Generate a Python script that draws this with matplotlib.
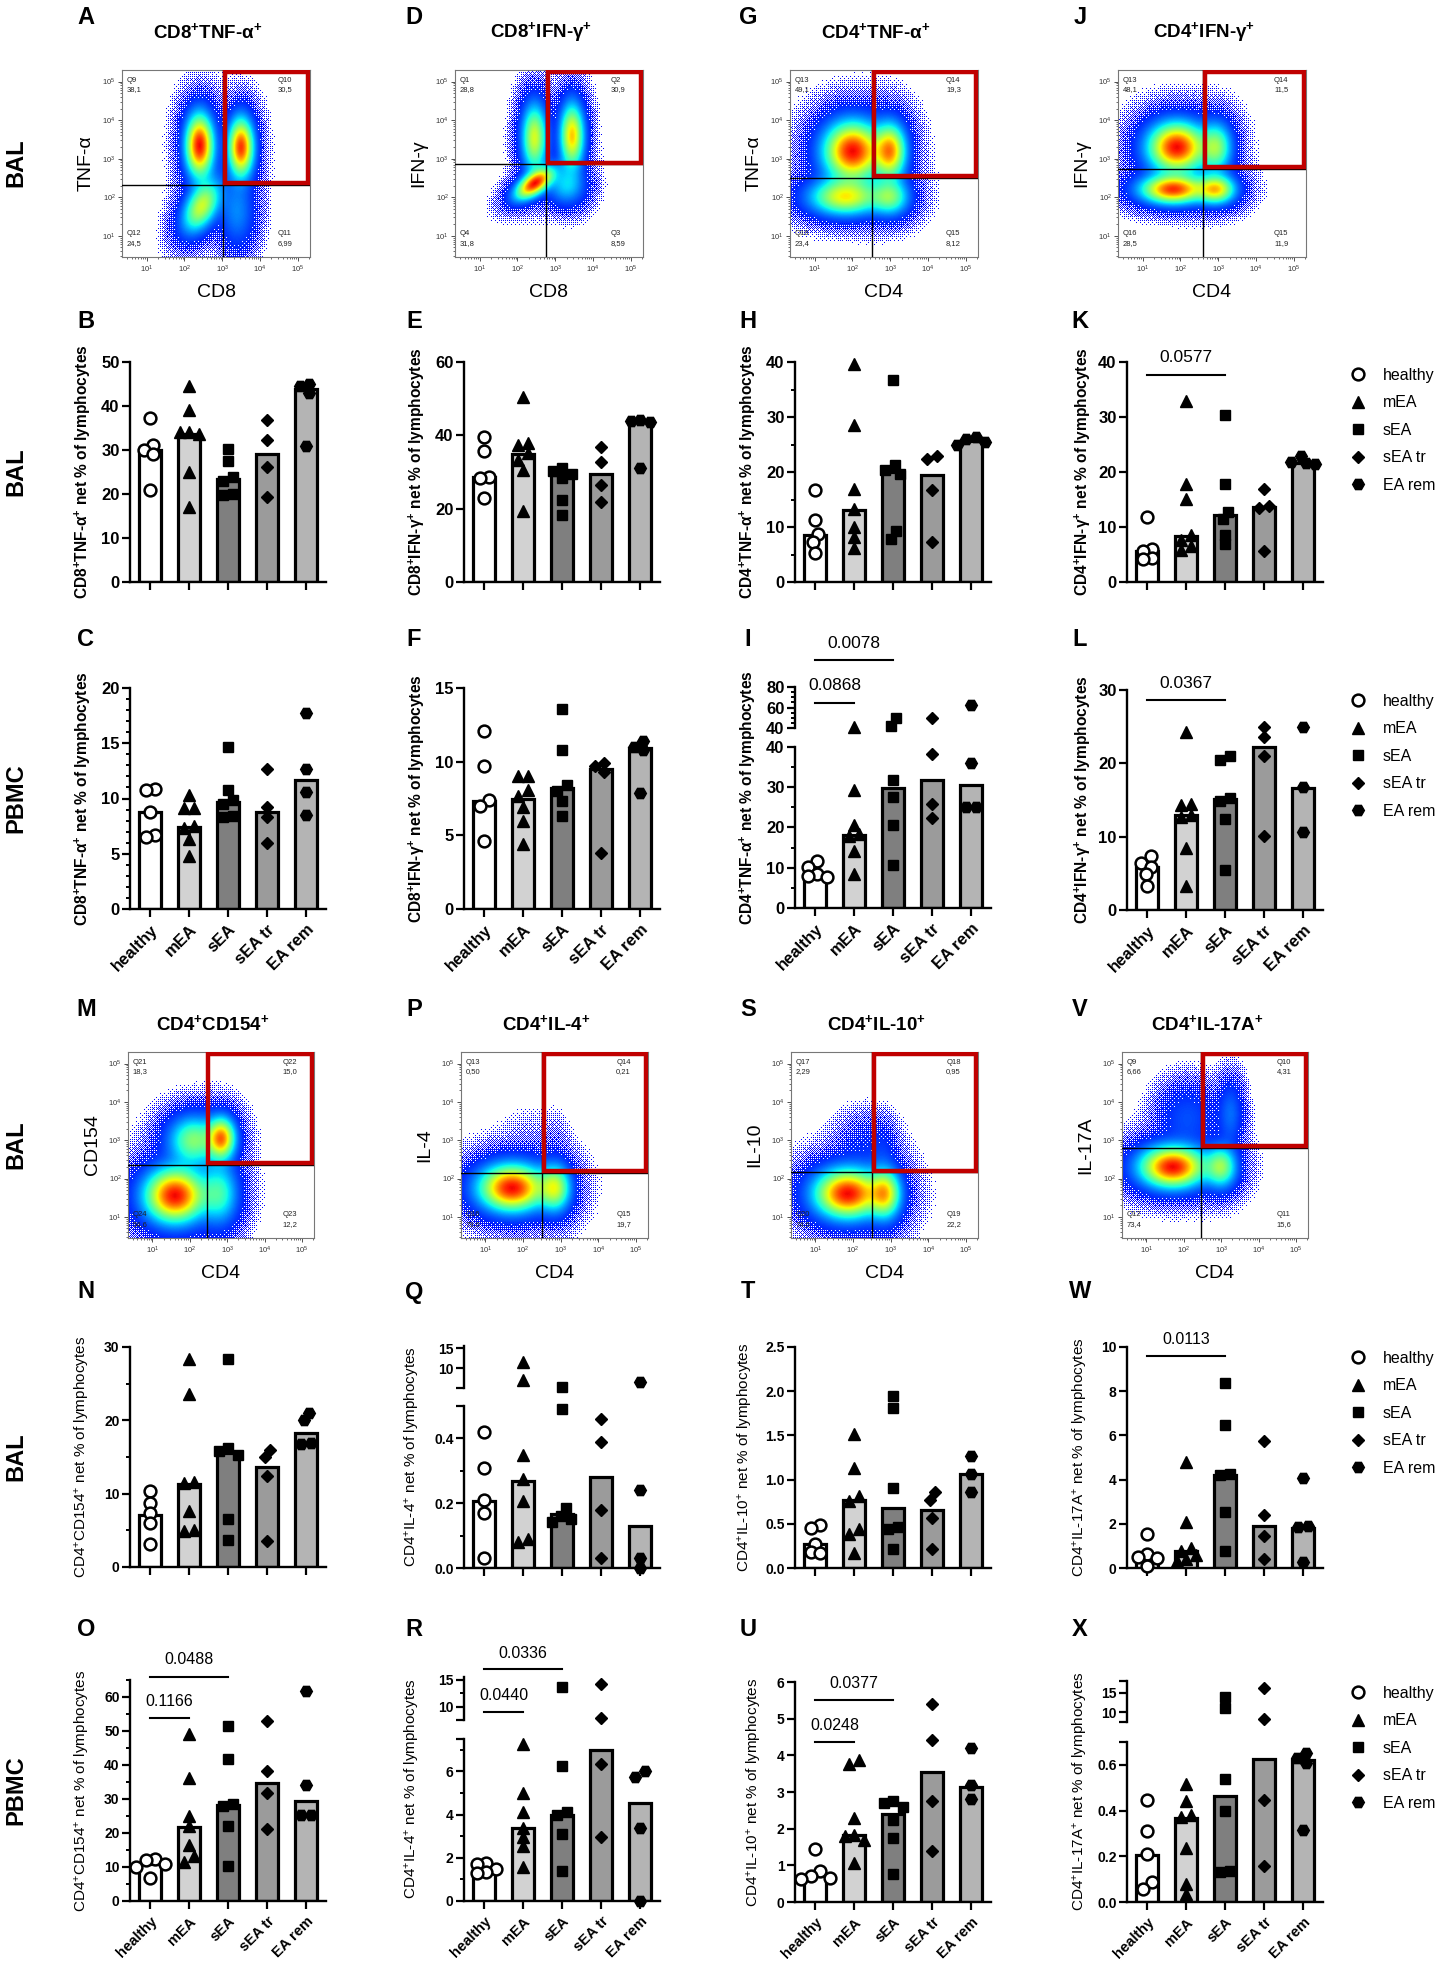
import numpy as np
import matplotlib
matplotlib.use("Agg")
import matplotlib.pyplot as plt
from matplotlib import cm
from matplotlib.lines import Line2D
from matplotlib.patches import Rectangle
import matplotlib.transforms as mtransforms

plt.rcParams['font.family'] = ['Liberation Sans', 'DejaVu Sans']
plt.rcParams['mathtext.fontset'] = 'custom'
plt.rcParams['mathtext.rm'] = 'Liberation Sans'
plt.rcParams['mathtext.it'] = 'Liberation Sans:italic'
plt.rcParams['mathtext.bf'] = 'Liberation Sans:bold'

# ---------------------------------------------------------------- data
groups = ['healthy', 'mEA', 'sEA', 'sEA tr', 'EA rem']

B_bar = [30.0, 33.7, 23.3, 29.2, 43.8]
B_pts = [[37.3, 31.2, 30.0, 29.0, 20.9], [44.6, 39.2, 34.2, 34.0, 33.6, 25.0, 17.0],
         [30.2, 27.4, 23.8, 23.0, 20.0, 19.8], [36.8, 32.2, 26.2, 19.3], [45.0, 44.6, 43.0, 31.0]]
E_bar = [28.7, 35.0, 29.3, 29.5, 43.8]
E_pts = [[39.5, 35.6, 28.7, 28.3, 22.9], [50.4, 38.0, 37.5, 35.2, 33.4, 30.6, 19.5],
         [31.0, 30.4, 29.5, 28.5, 22.3, 18.4], [36.7, 32.6, 26.5, 21.7], [44.3, 44.0, 43.6, 31.1]]
H_bar = [8.5, 13.1, 20.0, 19.4, 25.7]
H_pts = [[16.7, 11.3, 8.7, 7.3, 5.2], [39.6, 28.5, 17.0, 13.3, 10.0, 8.1, 6.2],
         [36.7, 21.2, 20.3, 19.7, 9.3, 7.9], [22.9, 22.3, 16.7, 7.3], [26.3, 26.0, 25.5, 25.0]]
K_bar = [5.7, 8.3, 12.2, 13.6, 21.7]
K_pts = [[11.8, 6.0, 5.7, 4.3, 4.1], [32.9, 17.9, 15.1, 8.5, 7.6, 6.5, 5.9],
         [30.4, 17.9, 12.8, 11.4, 8.6, 7.0], [16.9, 13.9, 13.5, 5.7], [23.0, 21.8, 21.6, 21.4]]
C_bar = [8.75, 7.45, 9.7, 8.75, 11.65]
C_pts = [[10.9, 10.8, 8.8, 6.7, 6.5], [10.3, 9.1, 9.1, 7.5, 7.3, 6.3, 4.8],
         [14.7, 10.8, 9.9, 9.5, 8.4, 8.3], [12.7, 9.2, 8.3, 5.95], [17.7, 12.7, 10.6, 8.5]]
F_bar = [7.35, 7.5, 8.2, 9.5, 10.9]
F_pts = [[12.1, 9.7, 7.4, 7.0, 4.6], [9.0, 9.0, 8.1, 7.7, 6.9, 6.0, 4.4],
         [13.6, 10.8, 8.4, 8.0, 7.3, 6.3], [9.9, 9.7, 9.3, 3.8], [11.4, 11.0, 10.8, 7.9]]
I_bar = [8.5, 18.1, 29.7, 31.8, 30.5]
I_pts = [[11.6, 10.2, 8.5, 8.0, 7.8], [41.0, 29.3, 20.6, 18.3, 18.0, 14.2, 8.5],
         [49.9, 41.6, 31.8, 27.6, 20.6, 10.8], [50.0, 38.3, 25.8, 22.3], [62.4, 36.1, 25.1, 25.1]]
L_bar = [5.9, 13.0, 15.1, 22.2, 16.6]
L_pts = [[7.3, 6.4, 5.9, 4.9, 3.3], [24.3, 14.5, 14.3, 13.0, 12.7, 8.5, 3.3],
         [21.0, 20.5, 15.3, 14.9, 12.4, 5.5], [24.9, 23.6, 21.0, 10.1], [24.9, 16.8, 10.6]]
N_bar = [7.1, 11.3, 15.6, 13.7, 18.3]
N_pts = [[10.3, 8.7, 7.3, 6.0, 3.1], [28.3, 23.6, 11.6, 11.4, 7.7, 5.0, 4.9],
         [28.3, 16.2, 15.8, 15.3, 6.5, 3.7], [16.0, 15.0, 12.4, 3.6], [21.0, 20.0, 16.9, 16.8]]
O_bar = [11.0, 21.7, 28.3, 34.6, 29.5]
O_pts = [[12.4, 12.0, 10.9, 10.0, 6.7], [49.2, 36.3, 24.9, 22.0, 16.6, 13.3, 11.4],
         [51.5, 41.9, 28.6, 28.0, 22.0, 10.2], [53.0, 38.1, 31.7, 21.3], [61.9, 34.0, 25.4, 25.4]]
Q_bar = [0.208, 0.268, 0.168, 0.28, 0.13]
Q_pts = [[0.42, 0.31, 0.21, 0.17, 0.03], [11.4, 7.1, 0.35, 0.275, 0.208, 0.09, 0.08],
         [5.3, 0.49, 0.184, 0.161, 0.152, 0.141], [0.46, 0.39, 0.18, 0.03], [6.5, 0.24, 0.03, 0.0]]
R_bar = [1.36, 3.4, 3.96, 7.0, 4.56]
R_pts = [[1.76, 1.7, 1.46, 1.36, 1.3], [7.26, 5.0, 4.1, 3.36, 2.96, 2.56, 1.56],
         [13.65, 6.26, 4.1, 3.96, 3.12, 1.4], [14.2, 7.86, 6.32, 2.96], [6.0, 5.76, 3.4, 0.0]]
T_bar = [0.27, 0.77, 0.68, 0.66, 1.06]
T_pts = [[0.49, 0.45, 0.27, 0.18, 0.17], [1.52, 1.13, 0.82, 0.76, 0.44, 0.39, 0.17],
         [1.95, 1.81, 0.91, 0.46, 0.44, 0.22], [0.86, 0.77, 0.56, 0.22], [1.27, 1.06, 0.86]]
U_bar = [0.70, 1.82, 2.41, 3.55, 3.15]
U_pts = [[1.44, 0.85, 0.70, 0.66, 0.62], [3.88, 3.76, 2.29, 1.83, 1.80, 1.70, 1.06],
         [2.76, 2.70, 2.60, 2.24, 1.74, 0.76], [5.39, 4.41, 2.76, 1.38], [4.20, 3.18, 2.80]]
W_bar = [0.49, 0.78, 4.19, 1.89, 1.81]
W_pts = [[1.56, 0.62, 0.50, 0.45, 0.08], [4.8, 2.08, 0.92, 0.78, 0.58, 0.39, 0.3],
         [8.38, 6.47, 4.25, 4.23, 2.53, 0.78], [5.75, 2.4, 1.46, 0.39], [4.09, 1.89, 1.85, 0.25]]
X_bar = [0.205, 0.368, 0.465, 0.625, 0.62]
X_pts = [[0.447, 0.31, 0.212, 0.086, 0.056], [0.518, 0.443, 0.38, 0.37, 0.236, 0.08, 0.034],
         [13.9, 11.1, 0.537, 0.396, 0.137, 0.131], [16.1, 8.3, 0.447, 0.156], [0.65, 0.63, 0.61, 0.315]]

# p-values of comparisons: (group a, group b, label)
K_sig = [(0, 2, '0.0577')]
I_sig = [(0, 2, '0.0078'), (0, 1, '0.0868')]
L_sig = [(0, 2, '0.0367')]
O_sig = [(0, 2, '0.0488'), (0, 1, '0.1166')]
R_sig = [(0, 2, '0.0336'), (0, 1, '0.0440')]
U_sig = [(0, 2, '0.0377'), (0, 1, '0.0248')]
W_sig = [(0, 2, '0.0113')]

# flow cytometry: quadrant names / percentages (UL, UR, LL, LR)
A_quad = [('Q9', '38,1'), ('Q10', '30,5'), ('Q12', '24,5'), ('Q11', '6,99')]
D_quad = [('Q1', '28,8'), ('Q2', '30,9'), ('Q4', '31,8'), ('Q3', '8,59')]
G_quad = [('Q13', '49,1'), ('Q14', '19,3'), ('Q16', '23,4'), ('Q15', '8,12')]
J_quad = [('Q13', '48,1'), ('Q14', '11,5'), ('Q16', '28,5'), ('Q15', '11,9')]
M_quad = [('Q21', '18,3'), ('Q22', '15,0'), ('Q24', '54,6'), ('Q23', '12,2')]
P_quad = [('Q13', '0,50'), ('Q14', '0,21'), ('Q16', '79,6'), ('Q15', '19,7')]
S_quad = [('Q17', '2,29'), ('Q18', '0,95'), ('Q20', '74,6'), ('Q19', '22,2')]
V_quad = [('Q9', '6,66'), ('Q10', '4,31'), ('Q12', '73,4'), ('Q11', '15,6')]

# populations (log10 centre x, centre y, spread x, spread y, correlation, weight)
A_pops = [(2.40, 3.35, 0.22, 0.48, 0.0, 38), (3.50, 3.30, 0.20, 0.45, 0.0, 30),
          (2.45, 1.75, 0.30, 0.40, 0.45, 24), (3.40, 1.60, 0.28, 0.55, 0.0, 7)]
D_pops = [(2.45, 3.55, 0.20, 0.52, 0.0, 28), (3.45, 3.60, 0.19, 0.50, 0.0, 31),
          (2.45, 2.35, 0.30, 0.24, 0.6, 32), (3.30, 2.30, 0.30, 0.30, 0.0, 8.6)]
G_pops = [(2.00, 3.20, 0.45, 0.45, 0.0, 49), (3.00, 3.20, 0.25, 0.42, 0.0, 19),
          (1.80, 2.00, 0.55, 0.28, 0.0, 23), (3.00, 2.00, 0.30, 0.28, 0.0, 8)]
J_pops = [(1.90, 3.30, 0.45, 0.38, 0.0, 48), (2.95, 3.30, 0.25, 0.38, 0.0, 11.5),
          (1.80, 2.20, 0.50, 0.22, 0.0, 28.5), (2.95, 2.20, 0.30, 0.22, 0.0, 12)]
M_pops = [(2.10, 3.00, 0.40, 0.38, 0.0, 18), (2.85, 3.05, 0.22, 0.32, 0.0, 15),
          (1.60, 1.55, 0.48, 0.42, 0.0, 55), (2.80, 1.60, 0.30, 0.48, 0.0, 12)]
P_pops = [(1.70, 1.75, 0.52, 0.36, 0.0, 80), (2.85, 1.75, 0.25, 0.36, 0.0, 20),
          (2.20, 2.90, 0.50, 0.60, 0.0, 0.5), (2.90, 2.90, 0.20, 0.50, 0.0, 0.2)]
S_pops = [(1.85, 1.60, 0.52, 0.38, 0.0, 75), (2.85, 1.60, 0.25, 0.38, 0.0, 22),
          (2.30, 2.80, 0.45, 0.50, 0.0, 2.3), (2.80, 2.70, 0.20, 0.45, 0.0, 0.95)]
V_pops = [(1.70, 2.30, 0.52, 0.32, 0.0, 73), (3.00, 2.30, 0.25, 0.32, 0.0, 15.6),
          (2.10, 3.60, 0.45, 0.50, 0.0, 6.7), (3.25, 3.70, 0.20, 0.50, 0.0, 4.3)]

# ---------------------------------------------------------------- layout
W, H = 1443, 1966
fig = plt.figure(figsize=(W / 100, H / 100), dpi=100)


def frect(l, t, w, h):
    return [l / W, 1 - (t + h) / H, w / W, h / H]


def fx(px):
    return px / W


def fy(py):
    return 1 - py / H


def sup(a, b, bold=True):
    p = r'$^{\mathbf{+}}$' if bold else r'$^{+}$'
    return a + p + b + p


bar_fill = ['white', '#d2d2d2', '#7f7f7f', '#9b9b9b', '#b4b4b4']
mstyle = [dict(marker='o', mfc='white', ms=8.5, mew=1.8),
          dict(marker='^', mfc='black', ms=8.5, mew=1.0),
          dict(marker='s', mfc='black', ms=7.5, mew=1.0),
          dict(marker='D', mfc='black', ms=6.3, mew=1.0),
          dict(marker='H', mfc='black', ms=8.5, mew=1.0)]

col_x = [130, 464, 795, 1127]
AX_W = 196
XLIM = (-0.52, 4.51)
PPX = AX_W / (XLIM[1] - XLIM[0])

row_label_kw = dict(fontsize=17, fontweight='bold', rotation=90, ha='center', va='center')
for txt, yc in [('BAL', 163), ('BAL', 472), ('PBMC', 798), ('BAL', 1145), ('BAL', 1457), ('PBMC', 1790)]:
    fig.text(fx(16), fy(yc), txt, **row_label_kw)

letter_x = [86, 414, 748, 1080]
letters = [('A', 'D', 'G', 'J', 17), ('B', 'E', 'H', 'K', 321), ('C', 'F', 'I', 'L', 640),
           ('M', 'P', 'S', 'V', 1010), ('N', 'Q', 'T', 'W', 1292), ('O', 'R', 'U', 'X', 1630)]
for row in letters:
    for c in range(4):
        fig.text(fx(letter_x[c]), fy(row[4]), row[c], fontsize=17, fontweight='bold',
                 ha='center', va='center')

# ordered-dither threshold matrix (8x8 Bayer) used to give density maps a dotted look
_b2 = np.array([[0, 2], [3, 1]])
_b4 = np.block([[4 * _b2, 4 * _b2 + 2], [4 * _b2 + 3, 4 * _b2 + 1]])
BAYER = (np.block([[4 * _b4, 4 * _b4 + 2], [4 * _b4 + 3, 4 * _b4 + 1]]) + 0.5) / 64.0

# ---------------------------------------------------------------- flow plots
FX0, FX1, FY0, FY1 = 0.35, 5.32, 0.45, 5.3


def flow_panel(l, t, w, h, pops, gx, gy, quad, xl, yl, title, title_gap):
    ax = fig.add_axes(frect(l, t, w, h))
    nx, ny = int(round(w)), int(round(h))
    xs = np.linspace(FX0, FX1, nx)
    ys = np.linspace(FY0, FY1, ny)
    X, Y = np.meshgrid(xs, ys)
    D = np.zeros_like(X)
    for (cx, cy, sx, sy, rho, wt) in pops:
        for sc, fr in ((1.0, 1.0), (1.8, 0.08)):
            dx = (X - cx) / (sx * sc)
            dy = (Y - cy) / (sy * sc)
            q = (dx ** 2 - 2 * rho * dx * dy + dy ** 2) / (1 - rho ** 2)
            D += wt * fr / (sc * sc * sx * sy) * np.exp(-0.5 * q)
    R = D / D.max()
    v = np.clip(R, 0, 1) ** 0.85
    rgba = cm.jet(0.12 + 0.78 * v)
    a = np.clip((np.log10(R + 1e-12) + 3.0) / 1.7, 0, 1)
    thr = np.tile(BAYER, (ny // 8 + 1, nx // 8 + 1))[:ny, :nx]
    rgba[..., 3] = (a > thr).astype(float)
    ax.imshow(rgba, origin='lower', extent=[FX0, FX1, FY0, FY1], aspect='auto',
              interpolation='nearest', zorder=1)
    ax.set_xlim(FX0, FX1)
    ax.set_ylim(FY0, FY1)
    ax.axvline(gx, color='black', lw=1.0, zorder=3)
    ax.axhline(gy, color='black', lw=1.0, zorder=3)
    ins = 0.05
    ax.add_patch(Rectangle((gx + ins, gy + ins), FX1 - gx - 2 * ins, FY1 - gy - 2 * ins,
                           fill=False, ec='#c00000', lw=3.2, zorder=4))
    dec = [1, 2, 3, 4, 5]
    lab = [r'$10^{%d}$' % d for d in dec]
    minors = [np.log10(k) + d for d in range(0, 6) for k in range(2, 10)]
    ax.set_xticks(dec)
    ax.set_xticklabels(lab, fontsize=5.5)
    ax.set_yticks(dec)
    ax.set_yticklabels(lab, fontsize=5.5)
    ax.set_xticks([m for m in minors if FX0 < m < FX1], minor=True)
    ax.set_yticks([m for m in minors if FY0 < m < FY1], minor=True)
    ax.tick_params(which='major', length=3, width=0.6, pad=1.5, colors='#333333')
    ax.tick_params(which='minor', length=1.5, width=0.5, colors='#333333')
    for s in ax.spines.values():
        s.set_color('#777777')
        s.set_linewidth(0.8)
    qk = dict(fontsize=5.5, color='#222222', linespacing=1.6)
    ax.text(0.025, 0.965, quad[0][0] + '\n' + quad[0][1], transform=ax.transAxes, va='top', ha='left', **qk)
    ax.text(0.83, 0.965, quad[1][0] + '\n' + quad[1][1], transform=ax.transAxes, va='top', ha='left', **qk)
    ax.text(0.025, 0.055, quad[2][0] + '\n' + quad[2][1], transform=ax.transAxes, va='bottom', ha='left', **qk)
    ax.text(0.83, 0.055, quad[3][0] + '\n' + quad[3][1], transform=ax.transAxes, va='bottom', ha='left', **qk)
    fig.text(fx(l + w / 2), fy(t + h + 36), xl, fontsize=14, ha='center', va='center')
    fig.text(fx(l - 36), fy(t + h / 2), yl, fontsize=14, ha='center', va='center', rotation=90)
    fig.text(fx(l + w / 2 - 8), fy(t - title_gap), title, fontsize=13.5, fontweight='bold',
             ha='center', va='center')
    return ax


flow_panel(122, 70, 188, 187, A_pops, 3.03, 2.33, A_quad, 'CD8', 'TNF-α', sup('CD8', 'TNF-α'), 38)
flow_panel(455, 70, 188, 187, D_pops, 2.76, 2.85, D_quad, 'CD8', 'IFN-γ', sup('CD8', 'IFN-γ'), 38)
flow_panel(790, 70, 188, 187, G_pops, 2.53, 2.50, G_quad, 'CD4', 'TNF-α', sup('CD4', 'TNF-α'), 38)
flow_panel(1118, 70, 188, 187, J_pops, 2.60, 2.74, J_quad, 'CD4', 'IFN-γ', sup('CD4', 'IFN-γ'), 38)
flow_panel(128, 1052, 186, 186, M_pops, 2.45, 2.35, M_quad, 'CD4', 'CD154', sup('CD4', 'CD154'), 28)
flow_panel(461, 1052, 187, 186, P_pops, 2.50, 2.14, P_quad, 'CD4', 'IL-4', sup('CD4', 'IL-4'), 28)
flow_panel(791, 1052, 187, 186, S_pops, 2.50, 2.16, S_quad, 'CD4', 'IL-10', sup('CD4', 'IL-10'), 28)
flow_panel(1122, 1052, 186, 186, V_pops, 2.47, 2.79, V_quad, 'CD4', 'IL-17A', sup('CD4', 'IL-17A'), 28)


# ---------------------------------------------------------------- bar / scatter panels
def swarm(vals, ppu, dpx=9.5):
    ys = np.array(vals, dtype=float) * ppu
    n = len(ys)
    xs = np.zeros(n)
    placed = []
    for i in np.argsort(-ys):
        for k in [0, -0.5, 0.5, -1, 1, -1.5, 1.5, -2, 2, -2.5, 2.5]:
            x = k * dpx
            if all((x - a) ** 2 + (ys[i] - b) ** 2 >= (0.9 * dpx) ** 2 for a, b in placed):
                break
        xs[i] = x
        placed.append((x, ys[i]))
    parent = list(range(n))

    def find(a):
        while parent[a] != a:
            a = parent[a]
        return a
    for i in range(n):
        for j in range(i + 1, n):
            if abs(ys[i] - ys[j]) < 0.9 * dpx:
                parent[find(i)] = find(j)
    roots = {}
    for i in range(n):
        roots.setdefault(find(i), []).append(i)
    for idx in roots.values():
        xs[idx] -= xs[idx].mean()
    return xs / PPX


def style_axis(ax, seg, fs, is_bottom):
    top, bot, ylim, majors, labels, minors = seg
    ax.set_xlim(*XLIM)
    ax.set_ylim(*ylim)
    ax.set_yticks(majors)
    if labels is None:
        labels = [('%g' % m) for m in majors]
    ax.set_yticklabels(labels, fontsize=fs, fontweight='bold')
    ax.set_yticks(minors, minor=True)
    ax.tick_params(axis='y', which='major', length=5.5, width=1.6, pad=2)
    ax.tick_params(axis='y', which='minor', length=3.2, width=1.4)
    for s in ['top', 'right']:
        ax.spines[s].set_visible(False)
    ax.spines['left'].set_linewidth(1.7)
    if is_bottom:
        ax.spines['bottom'].set_linewidth(1.7)
        ax.set_xticks(range(5))
        ax.tick_params(axis='x', which='major', length=6, width=1.6)
    else:
        ax.spines['bottom'].set_visible(False)
        ax.set_xticks([])
    ax.patch.set_alpha(0)


def bar_panel(col, segs, bars, pts, ylabel, big, xlabels, sig=None, sig_pos=None, ylab_off=47):
    fs = 12 if big else 10
    axes = []
    for si, seg in enumerate(segs):
        top, bot = seg[0], seg[1]
        ax = fig.add_axes(frect(col_x[col], top, AX_W, bot - top))
        style_axis(ax, seg, fs, si == 0)
        axes.append(ax)
    ax0 = axes[0]
    ax0.bar(range(5), bars, width=0.56, color=bar_fill, edgecolor='black', linewidth=2.3, zorder=2)
    lim0 = segs[0][2][1]
    for g in range(5):
        vals = np.array(pts[g], dtype=float)
        for si, seg in enumerate(segs):
            lo, hi = seg[2]
            sel = vals <= lim0 if si == 0 else vals > lim0
            sv = vals[sel]
            if len(sv) == 0:
                continue
            ppu = (seg[1] - seg[0]) / (hi - lo)
            off = swarm(sv, ppu)
            st = mstyle[g]
            axes[si].plot(g + off, sv, linestyle='none', marker=st['marker'], ms=st['ms'],
                          mfc=st['mfc'], mec='black', mew=st['mew'], zorder=5, clip_on=False)
    if xlabels:
        ax0.set_xticklabels(groups, rotation=45, ha='right', rotation_mode='anchor',
                            fontsize=(12 if big else 10.5), fontweight='bold')
    else:
        ax0.set_xticklabels([])
    top_all = min(s[0] for s in segs)
    bot_all = max(s[1] for s in segs)
    fig.text(fx(col_x[col] - ylab_off), fy((top_all + bot_all) / 2), ylabel,
             fontsize=(11.2 if big else 11), fontweight=('bold' if big else 'normal'),
             rotation=90, ha='center', va='center')
    if sig:
        tr = mtransforms.blended_transform_factory(ax0.transData, fig.transFigure)
        for (a, b, lab), (ly, ty) in zip(sig, sig_pos):
            ax0.plot([a, b], [fy(ly), fy(ly)], transform=tr, color='black', lw=1.5, clip_on=False)
            ax0.text((a + b) / 2, fy(ty), lab, transform=tr, ha='center', va='center',
                     fontsize=(12.5 if big else 11.5))
    return axes


def seg(top, bot, ylim, majors, labels=None, minors=()):
    return (top, bot, ylim, majors, labels, list(minors))


lab_B = sup('CD8', 'TNF-α') + ' net % of lymphocytes'
lab_E = sup('CD8', 'IFN-γ') + ' net % of lymphocytes'
lab_H = sup('CD4', 'TNF-α') + ' net % of lymphocytes'
lab_K = sup('CD4', 'IFN-γ') + ' net % of lymphocytes'
lab_N = sup('CD4', 'CD154', False) + ' net % of lymphocytes'
lab_Q = sup('CD4', 'IL-4', False) + ' net % of lymphocytes'
lab_T = sup('CD4', 'IL-10', False) + ' net % of lymphocytes'
lab_W = sup('CD4', 'IL-17A', False) + ' net % of lymphocytes'

# row 2 (BAL)
bar_panel(0, [seg(362, 582, (0, 50), [0, 10, 20, 30, 40, 50])], B_bar, B_pts, lab_B, True, False)
bar_panel(1, [seg(362, 582, (0, 60), [0, 20, 40, 60])], E_bar, E_pts, lab_E, True, False)
bar_panel(2, [seg(362, 582, (0, 40), [0, 10, 20, 30, 40], None, [5, 15, 25, 35])], H_bar, H_pts, lab_H, True, False)
bar_panel(3, [seg(362, 582, (0, 40), [0, 10, 20, 30, 40])], K_bar, K_pts, lab_K, True, False,
          K_sig, [(375, 357)], ylab_off=44)
# row 3 (PBMC)
bar_panel(0, [seg(688, 909, (0, 20), [0, 5, 10, 15, 20], None, [m for m in range(1, 20) if m % 5])],
          C_bar, C_pts, lab_B, True, True)
bar_panel(1, [seg(688, 909, (0, 15), [0, 5, 10, 15])], F_bar, F_pts, lab_E, True, True)
bar_panel(2, [seg(747, 908, (0, 40), [0, 10, 20, 30, 40], None, [5, 15, 25, 35]),
              seg(687, 728, (40, 80), [40, 60, 80], None, [45, 50, 55, 65, 70, 75])],
          I_bar, I_pts, lab_H, True, True, I_sig, [(660, 643), (703, 686)])
bar_panel(3, [seg(690, 910, (0, 30), [0, 10, 20, 30])], L_bar, L_pts, lab_K, True, True,
          L_sig, [(700, 683)], ylab_off=44)
# row 5 (BAL)
bar_panel(0, [seg(1347, 1567, (0, 30), [0, 10, 20, 30], None, [5, 15, 25])], N_bar, N_pts, lab_N, False, False)
bar_panel(1, [seg(1406, 1568, (0, 0.5), [0, 0.2, 0.4, 0.5], ['0.0', '0.2', '0.4', ''], [0.1, 0.3]),
              seg(1346, 1388, (5, 15.5), [5, 10, 15], ['', '10', '15'])],
          Q_bar, Q_pts, lab_Q, False, False, ylab_off=51)
bar_panel(2, [seg(1347, 1568, (0, 2.5), [0, 0.5, 1.0, 1.5, 2.0, 2.5],
                  ['0.0', '0.5', '1.0', '1.5', '2.0', '2.5'])], T_bar, T_pts, lab_T, False, False, ylab_off=50)
bar_panel(3, [seg(1347, 1568, (0, 10), [0, 2, 4, 6, 8, 10])], W_bar, W_pts, lab_W, False, False,
          W_sig, [(1356, 1340)])
# row 6 (PBMC)
bar_panel(0, [seg(1680, 1901, (0, 65), [0, 10, 20, 30, 40, 50, 60], None, [5, 15, 25, 35, 45, 55, 65])],
          O_bar, O_pts, lab_N, False, True, O_sig, [(1677, 1659), (1718, 1702)])
bar_panel(1, [seg(1739, 1901, (0, 7.5), [0, 2, 4, 6, 7.5], ['0', '2', '4', '6', ''], [1, 3, 5, 7]),
              seg(1677, 1720, (7.5, 15.5), [7.5, 10, 15], ['', '10', '15'], [12.5])],
          R_bar, R_pts, lab_Q, False, True, R_sig, [(1669, 1653), (1712, 1695)], ylab_off=51)
bar_panel(2, [seg(1682, 1902, (0, 6), [0, 1, 2, 3, 4, 5, 6])], U_bar, U_pts, lab_T, False, True,
          U_sig, [(1700, 1683), (1742, 1725)], ylab_off=40)
bar_panel(3, [seg(1742, 1902, (0, 0.7), [0, 0.2, 0.4, 0.6, 0.7], ['0.0', '0.2', '0.4', '0.6', '']),
              seg(1681, 1722, (7.5, 18), [7.5, 10, 15, 18], ['', '10', '15', ''])],
          X_bar, X_pts, lab_W, False, True, ylab_off=47)

# ---------------------------------------------------------------- legends
handles = [Line2D([], [], linestyle='none', marker=s['marker'], ms=s['ms'], mfc=s['mfc'],
                  mec='black', mew=s['mew']) for s in mstyle]
for ytop in [368, 694, 1351, 1686]:
    fig.legend(handles, groups, loc='upper left', bbox_to_anchor=(fx(1350), fy(ytop)),
               bbox_transform=fig.transFigure, frameon=False, fontsize=11.5,
               handlelength=1.0, handletextpad=1.05, labelspacing=0.78, borderpad=0,
               borderaxespad=0)

fig.savefig('out.png', dpi=100, facecolor='white')
